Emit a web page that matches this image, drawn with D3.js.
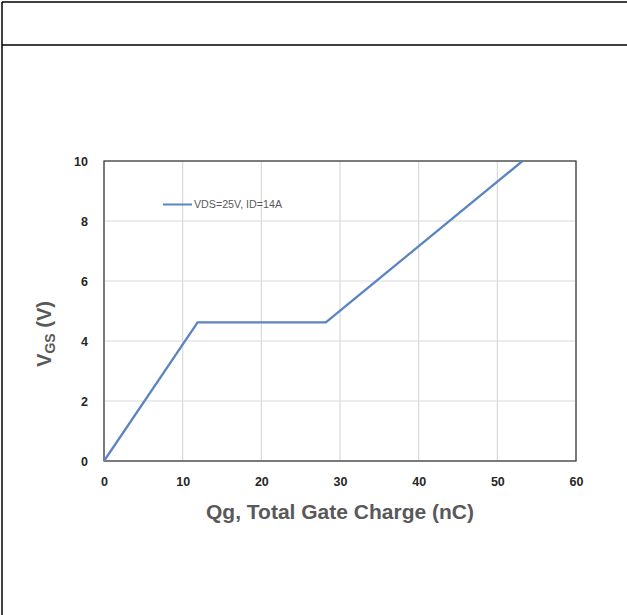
<!DOCTYPE html>
<html><head><meta charset="utf-8">
<script src="https://cdn.jsdelivr.net/npm/d3@7"></script>
<style>html,body{margin:0;padding:0;background:#fff;}svg{display:block;}</style>
</head><body>
<svg id="c" width="627" height="615"></svg>
<script>
const qg = [0, 11.9, 28.2, 53.2];
const vgs = [0, 4.62, 4.62, 10];
const seriesName = "VDS=25V, ID=14A";
const xTicks = [0, 10, 20, 30, 40, 50, 60];
const yTicks = [0, 2, 4, 6, 8, 10];

const svg = d3.select("#c");
// page frame
svg.append("line").attr("x1",2).attr("x2",627).attr("y1",2).attr("y2",2).attr("stroke","#000").attr("stroke-width",1.5);
svg.append("line").attr("x1",2).attr("x2",627).attr("y1",45).attr("y2",45).attr("stroke","#000").attr("stroke-width",1.5);
svg.append("line").attr("x1",2).attr("x2",2).attr("y1",2).attr("y2",615).attr("stroke","#000").attr("stroke-width",1.5);

const L=104,R=576,T=161,B=461;
const x = d3.scaleLinear().domain([0,60]).range([L,R]);
const y = d3.scaleLinear().domain([0,10]).range([B,T]);

const g = svg.append("g");
// grid
g.selectAll(".vg").data(xTicks).join("line")
  .attr("x1",d=>x(d)).attr("x2",d=>x(d)).attr("y1",T).attr("y2",B)
  .attr("stroke","#d9d9d9").attr("stroke-width",1.2);
g.selectAll(".hg").data(yTicks).join("line")
  .attr("x1",L).attr("x2",R).attr("y1",d=>y(d)).attr("y2",d=>y(d))
  .attr("stroke","#d9d9d9").attr("stroke-width",1.2);
// plot border
g.append("rect").attr("x",L).attr("y",T).attr("width",R-L).attr("height",B-T)
  .attr("fill","none").attr("stroke","#404040").attr("stroke-width",1.3);

// axes labels via d3 axes
const xa = svg.append("g").attr("transform",`translate(0,${B})`)
  .call(d3.axisBottom(x).tickValues(xTicks).tickSize(0).tickPadding(16).tickFormat(d3.format("d")));
const ya = svg.append("g").attr("transform",`translate(${L},0)`)
  .call(d3.axisLeft(y).tickValues(yTicks).tickSize(0).tickPadding(16).tickFormat(d3.format("d")));
[xa,ya].forEach(a=>{
  a.select(".domain").remove();
  a.selectAll("text").attr("font-family","Liberation Sans, Arial, sans-serif")
    .attr("font-size",12.5).attr("font-weight","bold").attr("fill","#262626");
});

// series line
const pts = qg.map((d,i)=>[d,vgs[i]]);
svg.append("path").datum(pts)
  .attr("d", d3.line().x(d=>x(d[0])).y(d=>y(d[1])))
  .attr("fill","none").attr("stroke","#5a84c2").attr("stroke-width",2.3).attr("stroke-linejoin","miter");

// legend
svg.append("line").attr("x1",163).attr("x2",192).attr("y1",204.5).attr("y2",204.5)
  .attr("stroke","#5a84c2").attr("stroke-width",2);
svg.append("text").attr("x",194).attr("y",208).text(seriesName)
  .attr("font-family","Liberation Sans Narrow, Liberation Sans, Arial, sans-serif")
  .attr("font-size",10).attr("fill","#595959").attr("textLength",88).attr("lengthAdjust","spacingAndGlyphs");

// axis titles
svg.append("text").attr("x",(L+R)/2).attr("y",519).attr("text-anchor","middle")
  .attr("font-family","Liberation Sans, Arial, sans-serif").attr("font-size",21).attr("font-weight","bold")
  .attr("fill","#595959").text("Qg, Total Gate Charge (nC)");

const yt = svg.append("text").attr("transform","translate(51,334) rotate(-90)").attr("text-anchor","middle")
  .attr("font-family","Liberation Sans, Arial, sans-serif").attr("font-size",20).attr("font-weight","bold")
  .attr("fill","#595959");
yt.append("tspan").text("V");
yt.append("tspan").attr("font-size",14).attr("dy",4).text("GS");
yt.append("tspan").attr("dy",-4).text(" (V)");
</script>
</body></html>
